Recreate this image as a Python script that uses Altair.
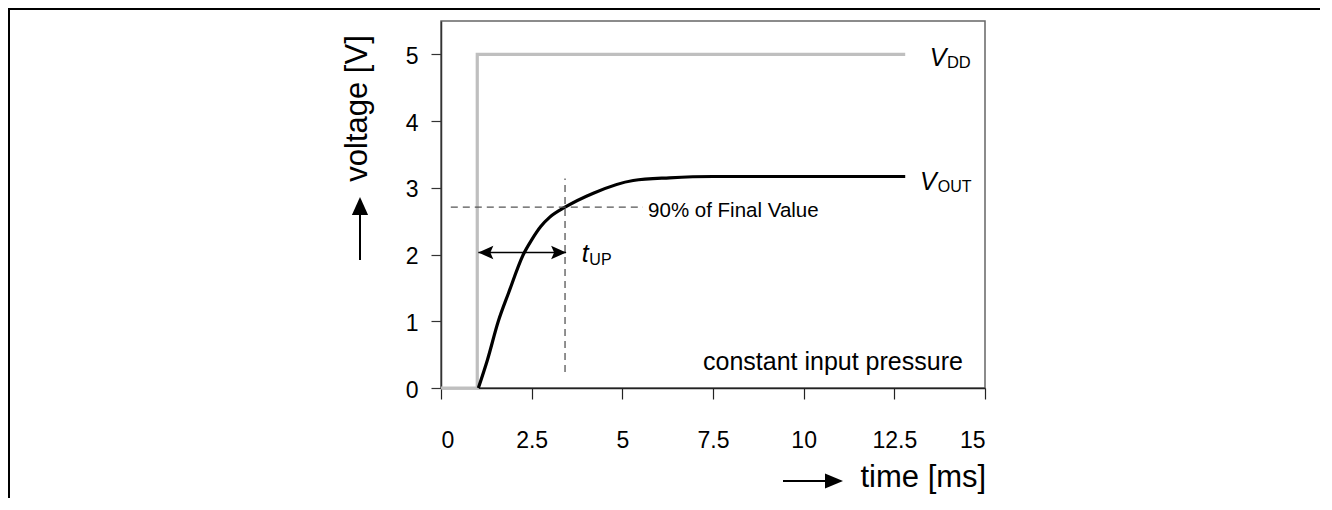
import altair as alt
import pandas as pd

# ---- data ----
vdd_t = [0, 1, 1, 12.8]
vdd_v = [0, 0, 5, 5]

vout_t = [1.03, 1.28, 1.58, 1.86, 2.27, 2.5, 2.75, 3.0, 3.42, 4.2, 5.3, 6.3, 7.5, 10, 12.8]
vout_v = [0, 0.42, 1.0, 1.42, 2.0, 2.22, 2.42, 2.56, 2.71, 2.92, 3.11, 3.15, 3.17, 3.17, 3.17]

x_ticks = [0, 2.5, 5, 7.5, 10, 12.5, 15]
y_ticks = [0, 1, 2, 3, 4, 5]

level_90 = 2.71          # 90 % of final value
t_cross = 3.42           # time where VOUT reaches 90 %
t_start = 1.03           # start of rise
tup_level = 2.03         # height of the t_UP arrow

FONT = "Liberation Sans"

xs = alt.Scale(domain=[0, 15], nice=False, zero=False)
ys = alt.Scale(domain=[0, 5.5], nice=False)

x_axis = alt.Axis(values=x_ticks, format=".1~f", title="time [ms]", grid=False,
                  tickSize=11, labelPadding=30, labelBaseline="top",
                  labelFontSize=23, labelFont=FONT, labelColor="#000",
                  domainColor="#222", tickColor="#222", domainWidth=1.5, tickWidth=1.2,
                  titleFont=FONT, titleFontSize=31, titleFontWeight="normal", titleColor="#000",
                  titleX=419, titleY=89, titleAlign="left", titleBaseline="middle", titleAngle=0)
y_axis = alt.Axis(values=y_ticks, title="voltage [V]", grid=False,
                  tickSize=10, labelPadding=13, labelBaseline="middle", labelOffset=2,
                  labelFontSize=23, labelFont=FONT, labelColor="#000",
                  domainColor="#333", tickColor="#333", domainWidth=1.5, tickWidth=1.2,
                  titleFont=FONT, titleFontSize=31, titleFontWeight="normal", titleColor="#000",
                  titleX=-84, titleY=87, titleAlign="center", titleBaseline="middle", titleAngle=270)


def X(field="t:Q"):
    return alt.X(field, scale=xs, axis=x_axis)


def Y(field="v:Q"):
    return alt.Y(field, scale=ys, axis=y_axis)


vdd_df = pd.DataFrame({"t": vdd_t, "v": vdd_v, "o": list(range(len(vdd_t)))})
vout_df = pd.DataFrame({"t": vout_t, "v": vout_v, "o": list(range(len(vout_t)))})

vdd = alt.Chart(vdd_df).mark_line(color="#bfbfbf", strokeWidth=3.2).encode(
    x=X(), y=Y(), order="o:Q")
vout = alt.Chart(vout_df).mark_line(color="#000", strokeWidth=3.2, interpolate="monotone").encode(
    x=X(), y=Y(), order="o:Q")

dash_df = pd.DataFrame({
    "t": [0.27, 5.57, t_cross, t_cross],
    "v": [level_90, level_90, 0.24, 3.14],
    "seg": ["h", "h", "v", "v"],
})
dashes = alt.Chart(dash_df).mark_line(color="#555", strokeWidth=1.3, strokeDash=[7, 5]).encode(
    x=X(), y=Y(), detail="seg:N")

arrow_df = pd.DataFrame({"t": [t_start], "t2": [t_cross + 0.03], "v": [tup_level]})
shaft = alt.Chart(arrow_df).mark_rule(color="#000", strokeWidth=1.6).encode(
    x=X(), x2="t2:Q", y=Y())
heads_df = pd.DataFrame({"t": [t_start, t_cross + 0.03], "v": [tup_level, tup_level], "dir": ["l", "r"]})
head_l = alt.Chart(heads_df).transform_filter("datum.dir == 'l'").mark_point(
    shape="M0,0 L1,-0.45 L0.8,0 L1,0.45 Z", filled=True, color="#000", size=900, opacity=1, strokeWidth=0
).encode(x=X(), y=Y())
head_r = alt.Chart(heads_df).transform_filter("datum.dir == 'r'").mark_point(
    shape="M0,0 L-1,-0.45 L-0.8,0 L-1,0.45 Z", filled=True, color="#000", size=900, opacity=1, strokeWidth=0
).encode(x=X(), y=Y())


def label(t, v, text, size, style="normal", align="left", baseline="alphabetic"):
    df = pd.DataFrame({"t": [t], "v": [v], "txt": [text]})
    return alt.Chart(df).mark_text(font=FONT, fontSize=size, fontStyle=style, color="#000",
                                   align=align, baseline=baseline).encode(
        x=X(), y=Y(), text="txt:N")


labels = [
    label(5.71, 2.66, "90% of Final Value", 20.5, baseline="middle"),
    label(14.39, 0.385, "constant input pressure", 25, align="right", baseline="middle"),
    label(3.88, 1.89, "t", 25, style="italic"),
    label(4.09, 1.84, "UP", 16),
    label(13.48, 4.82, "V", 25, style="italic"),
    label(13.95, 4.79, "DD", 16.5),
    label(13.21, 2.96, "V", 25, style="italic"),
    label(13.70, 2.93, "OUT", 16),
]

one = pd.DataFrame({"k": [0]})
# title arrows (decoration, outside the plot area)
y_shaft = alt.Chart(one).mark_rule(color="#000", strokeWidth=2).encode(
    x=alt.value(-81), y=alt.value(239), y2=alt.value(190))
y_head = alt.Chart(one).mark_point(shape="M0,0 L-0.45,1 L0.45,1 Z", filled=True, color="#000",
                                   size=1296, opacity=1, strokeWidth=0).encode(
    x=alt.value(-81), y=alt.value(176))
x_shaft = alt.Chart(one).mark_rule(color="#000", strokeWidth=2).encode(
    x=alt.value(342), x2=alt.value(388), y=alt.value(460))
x_head = alt.Chart(one).mark_point(shape="M0,0 L-1,-0.42 L-1,0.42 Z", filled=True, color="#000",
                                   size=1296, opacity=1, strokeWidth=0).encode(
    x=alt.value(402), y=alt.value(460))
frame = alt.Chart(one).mark_rect(filled=False, stroke="#000", strokeWidth=2).encode(
    x=alt.value(-432), x2=alt.value(884), y=alt.value(-12), y2=alt.value(600))

chart = alt.layer(
    vdd, vout, dashes, shaft, head_l, head_r, *labels,
    y_shaft, y_head, x_shaft, x_head, frame,
).properties(
    width=544, height=367,
    background="white",
    autosize=alt.AutoSizeParams(type="none"),
    padding={"left": 433, "top": 13, "right": 335, "bottom": 110},
).configure_view(stroke="#666", strokeWidth=1.5)

chart.save("out.html", embed_options={"renderer": "svg", "actions": False})
